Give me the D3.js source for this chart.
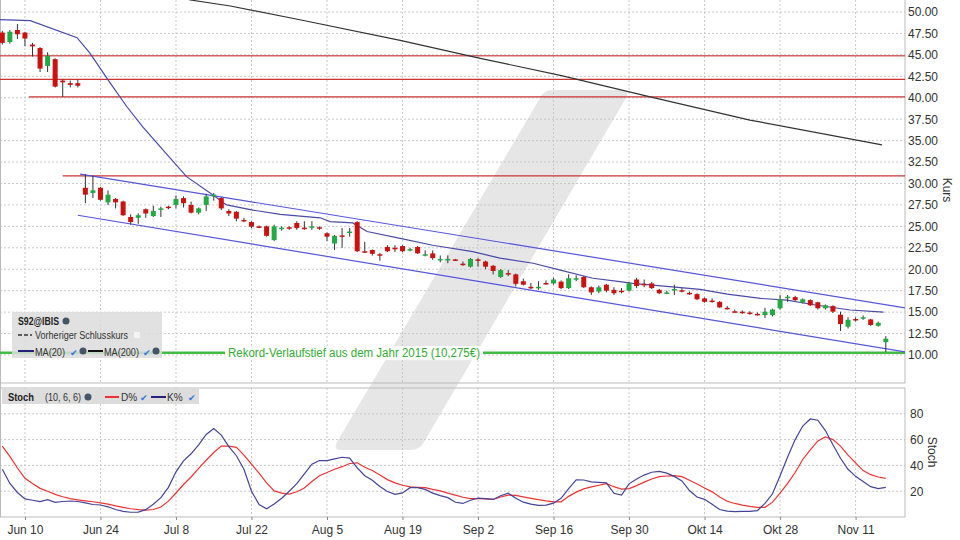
<!DOCTYPE html>
<html><head><meta charset="utf-8">
<script src="https://cdn.jsdelivr.net/npm/d3@7"></script>
<style>body{margin:0;background:#fff;font-family:Arial,"Liberation Sans",sans-serif}</style>
</head><body><svg id="c" width="960" height="540"></svg>
<script>
const opens=[47.6,46.5,47.9,47.6,46.2,45.8,43.7,44.5,42.0,41.7,41.7,29.5,28.9,29.5,27.8,28.2,27.9,26.1,26.0,27.0,26.2,27.0,27.3,27.5,28.3,27.5,26.6,27.5,28.5,28.3,26.8,26.7,25.75,25.5,25.0,25.0,23.4,24.75,24.9,25.4,24.85,24.95,24.9,24.2,23.0,23.95,24.35,25.5,22.1,22.25,21.75,22.6,22.5,22.7,22.3,22.6,21.7,21.85,21.15,21.15,21.15,20.65,20.3,21.15,20.9,20.4,19.1,19.55,19.4,18.6,17.95,17.9,18.4,18.35,18.55,17.8,18.9,19.1,17.9,17.4,18.2,17.6,17.5,17.5,18.8,18.3,18.35,17.6,17.25,17.65,17.55,17.25,17.1,16.6,16.35,16.2,15.5,15.1,15.05,14.95,14.8,14.65,14.65,15.45,16.75,16.75,16.1,16.4,16.15,15.45,15.7,14.7,13.3,14.2,14.35,14.15,13.4,11.5];
const closes=[46.4,47.7,47.4,46.9,46.0,43.4,44.9,41.3,41.8,41.5,41.4,28.7,29.2,28.1,28.7,27.8,26.3,25.5,26.3,26.5,26.8,27.1,27.2,28.2,27.7,26.6,27.1,28.5,28.7,27.1,26.5,25.9,25.7,24.96,24.9,23.9,25.0,24.85,24.8,24.8,24.8,25.0,24.85,23.8,23.9,23.9,24.4,22.1,22.0,21.8,21.7,22.1,22.45,22.1,22.35,21.85,21.75,21.3,21.2,21.2,21.1,20.6,21.2,21.1,20.3,19.8,19.9,19.5,18.3,18.2,17.9,17.95,18.35,18.8,17.8,18.95,18.95,17.9,17.3,17.9,17.5,17.2,17.45,18.35,18.05,18.25,17.8,17.2,17.3,17.7,17.5,17.2,16.5,16.2,16.3,15.55,15.45,15.05,15.0,14.9,14.75,15.05,15.3,16.5,16.8,16.4,16.5,15.8,15.45,15.8,15.05,13.6,14.1,14.15,14.4,13.5,13.75,11.9];
const highs=[47.8,47.9,48.6,47.7,46.4,45.9,45.3,44.6,42.1,42.0,42.1,31.1,30.9,29.6,29.2,28.3,28.0,26.4,26.5,27.1,27.4,27.3,27.4,28.6,28.5,27.9,27.2,28.8,28.9,28.4,27.0,26.8,26.0,25.6,25.1,25.1,25.2,25.0,25.0,25.6,25.6,25.6,25.0,24.3,24.0,24.8,24.8,25.6,23.2,22.3,21.9,22.8,22.8,22.8,22.5,22.7,22.2,22.2,21.6,21.6,21.2,20.9,21.3,21.3,21.0,20.5,20.0,19.9,19.5,18.9,18.4,18.6,18.7,19.0,18.7,19.4,19.3,19.2,18.0,18.1,18.3,17.9,17.8,18.5,19.0,18.8,18.5,17.7,17.5,18.2,17.8,17.4,17.2,16.7,16.6,16.3,15.7,15.3,15.2,15.1,14.95,15.5,15.4,17.0,17.0,16.9,16.6,16.5,16.2,15.9,15.8,15.05,14.4,14.4,14.6,14.2,13.9,12.2];
const lows=[46.2,46.3,46.85,46.0,44.8,43.0,43.0,41.2,40.1,41.2,41.2,27.7,28.3,28.0,27.5,27.1,26.2,25.2,25.3,26.0,26.1,26.1,27.0,27.1,27.2,26.5,26.4,26.8,28.0,26.9,26.2,25.6,25.5,24.8,24.8,23.8,23.3,24.5,24.6,24.6,24.6,24.6,24.6,23.3,22.25,22.5,23.8,22.0,21.9,21.6,21.0,22.0,22.0,22.0,22.1,21.8,21.5,21.1,20.8,20.7,21.0,20.4,20.2,20.3,20.0,19.4,19.0,19.2,18.0,18.1,17.7,17.6,18.2,18.2,17.7,17.7,18.6,17.8,17.0,17.2,17.3,17.0,17.2,17.4,17.8,17.9,17.7,17.1,17.1,17.0,17.3,17.0,16.4,16.1,16.1,15.5,15.3,14.9,14.8,14.7,14.6,14.3,14.5,15.3,16.2,16.3,16.0,15.7,15.3,15.3,14.9,12.8,13.1,13.9,14.1,13.4,13.3,10.35];
const ma20=[[-0.3,49.1],[3.7,49.0],[9.9,47.0],[11.6,45.2],[14.3,41.7],[16.5,38.95],[18.6,36.6],[21.3,33.9],[24.4,30.8],[27.9,28.65],[29.7,27.5],[33.2,26.9],[36.8,26.4],[42.1,26.0],[43.4,25.55],[46.4,25.4],[48.3,24.4],[52.7,23.6],[57,22.8],[62.3,22.05],[65.9,21.3],[70.3,20.7],[73.9,19.9],[78.2,18.95],[81.8,18.55],[83.5,18.35],[88,18.0],[92.4,17.65],[96,17.1],[100.4,16.6],[103.9,16.4],[107.9,15.8],[112.3,15.25],[116.7,15.0]];
const ma200=[[20,52.6],[24.9,51.4],[30.2,50.7],[39.4,49.1],[52.7,46.7],[63.3,44.6],[73.9,42.6],[85.8,40.1],[99,37.4],[116.5,34.5]];
const channelUpper=[[10.3,31.1],[119.6,15.5]];
const channelLower=[[10.0,26.3],[119.6,10.35]];
const redLevels=[{v:44.9,from:-0.3},{v:42.15,from:-0.3},{v:40.1,from:3.5},{v:30.9,from:8.0}];
const recordLow=10.275;
const stochK=[37,26,19,14,13,12,13.5,11.4,12,12.4,12,11,9.7,9.3,7.9,5.8,4.4,3.7,3.8,5.7,9.9,15,23,35,43.5,49,56,64,68.6,63.5,54.5,47.5,37,20,9.7,6.3,10,14.5,20,25.8,33.5,41,43.8,43.7,45,46.3,45.7,38,32,28.5,23.6,19.7,17.5,18.7,22.7,22.7,21.4,18.5,16.6,15,11.4,10.5,13,14.6,14.2,13.6,16.5,18.5,14.5,11.5,10,9,9.2,10.7,14.5,22,28.8,28.7,27.3,26.9,26.5,18.4,17,25.7,29.4,32.5,34.7,35.3,34,31.5,28,20.5,15.5,13.7,9.8,5.8,4.5,4.2,4.4,4.4,5,10.5,18,32,46.5,60,70.5,76,75,67,56,45.5,37,31.5,27.5,23.5,22,23];
const stochD=[55,47,38,30,26,22.2,20,17.5,15.7,14.3,13.3,12.5,11.8,11,10,8.6,7.4,6.4,5.7,5.3,5.8,7.7,12.3,18.6,25.2,31,37.7,44,50,55,55,54,48,41,34,26.5,20.2,18.5,17.7,19.6,22.5,27.5,32,34.5,37,39,41.5,42,38.5,36,32.5,29,26.5,24.6,23.3,23,22.8,21.4,20.2,18.5,17,15.3,14.2,14.2,14,13.6,15.5,17,16.7,15.6,14.5,13.4,12.5,11.8,11.8,16,19.3,21.8,23.3,24.6,25.8,23.5,21.6,22,24.3,27,29.5,31.3,31.8,32,31.3,28.5,25.6,22.5,19.5,15.5,12.2,10.5,9.2,8.2,7.5,7.5,11.5,18.5,26,34.5,44.6,52,59,62,60,55,48,42,36,32.8,31,30];
const xTickIdx=[3,13,23,33,43,53,63,73,83,93,103,113];
const xTickLabels=["Jun 10","Jun 24","Jul 8","Jul 22","Aug 5","Aug 19","Sep 2","Sep 16","Sep 30","Okt 14","Okt 28","Nov 11"];
const priceTicks=d3.range(10,50.01,2.5);
const stochTicks=[20,40,60,80];

const svg=d3.select("#c");
const W=905, mainBot=383, stTop=388, stBot=517;
const x=d3.scaleLinear().domain([0,117]).range([2.3,885.8]);
const y=d3.scaleLinear().domain([10,50]).range([355,12]);
const ys=d3.scaleLinear().domain([0,100]).range([517,388]);

svg.append("defs").html(`<clipPath id="cm"><rect x="0" y="0" width="${W}" height="${mainBot}"/></clipPath><clipPath id="cs"><rect x="0" y="${stTop}" width="${W}" height="${stBot-stTop}"/></clipPath>`);

svg.append("path").attr("d","M548,90 L622,90 Q630,90 626,98 L424,442 Q420,450 410,450 L341,450 Q333,450 337,442 L540,98 Q544,90 552,90 Z").attr("fill","#e6e6e6");

const g=svg.append("g");
priceTicks.forEach(t=>g.append("line").attr("x1",0).attr("x2",W).attr("y1",y(t)).attr("y2",y(t)).attr("stroke","#c8c8c8").attr("stroke-dasharray","2,2"));
stochTicks.forEach(t=>g.append("line").attr("x1",0).attr("x2",W).attr("y1",ys(t)).attr("y2",ys(t)).attr("stroke","#c8c8c8").attr("stroke-dasharray","2,2"));
xTickIdx.forEach(i=>{
  g.append("line").attr("x1",x(i)).attr("x2",x(i)).attr("y1",0).attr("y2",mainBot).attr("stroke","#c8c8c8").attr("stroke-dasharray","2,2");
  g.append("line").attr("x1",x(i)).attr("x2",x(i)).attr("y1",stTop).attr("y2",stBot).attr("stroke","#c8c8c8").attr("stroke-dasharray","2,2");
});
[[0,W,mainBot,mainBot],[0,W,stTop,stTop],[0,W,stBot,stBot]].forEach(a=>svg.append("line").attr("x1",a[0]).attr("x2",a[1]).attr("y1",a[2]).attr("y2",a[3]).attr("stroke","#bbb"));
svg.append("line").attr("x1",W).attr("x2",W).attr("y1",0).attr("y2",mainBot).attr("stroke","#bbb");
svg.append("line").attr("x1",W).attr("x2",W).attr("y1",stTop).attr("y2",stBot).attr("stroke","#bbb");
svg.append("line").attr("x1",0.5).attr("x2",0.5).attr("y1",0).attr("y2",stBot).attr("stroke","#bbb");

const m=svg.append("g").attr("clip-path","url(#cm)");
redLevels.forEach(r=>m.append("line").attr("x1",x(r.from)).attr("x2",W).attr("y1",y(r.v)).attr("y2",y(r.v)).attr("stroke","#cc3333").attr("stroke-width",r.v>44?1.6:1.2).attr("opacity",r.v>44?0.75:1));
m.append("line").attr("x1",0).attr("x2",W).attr("y1",y(recordLow)).attr("y2",y(recordLow)).attr("stroke","#44bb44").attr("stroke-width",2.5);
const ln=d3.line().x(d=>x(d[0])).y(d=>y(d[1]));
m.append("path").attr("d",ln(ma200)).attr("fill","none").attr("stroke","#333").attr("stroke-width",1.2);
m.append("path").attr("d",ln(channelUpper)).attr("fill","none").attr("stroke","#5555dd").attr("stroke-width",1.2);
m.append("path").attr("d",ln(channelLower)).attr("fill","none").attr("stroke","#5555dd").attr("stroke-width",1.2);
m.append("path").attr("d",ln(ma20)).attr("fill","none").attr("stroke","#4a4aaa").attr("stroke-width",1.2);

closes.forEach((c,i)=>{
  const o=opens[i], up=c>=o, col=up?"#22aa44":"#cc1111";
  const cx=x(i);
  m.append("line").attr("x1",cx).attr("x2",cx).attr("y1",y(highs[i])).attr("y2",y(lows[i])).attr("stroke","#333").attr("stroke-width",1);
  const t=y(Math.max(o,c)), b=y(Math.min(o,c));
  m.append("rect").attr("x",cx-2.5).attr("y",t).attr("width",5).attr("height",Math.max(1.5,b-t)).attr("fill",col);
});

const lbl="Rekord-Verlaufstief aus dem Jahr 2015 (10,275€)";
const tx=m.append("text").attr("x",354).attr("y",y(recordLow)+4.5).attr("text-anchor","middle").attr("font-size",12).attr("fill","#33aa33").attr("textLength",252).attr("lengthAdjust","spacingAndGlyphs").text(lbl);
const bb=tx.node().getBBox();
m.insert("rect","text").attr("x",bb.x-3).attr("y",bb.y).attr("width",bb.width+6).attr("height",bb.height).attr("fill","#fff");

const lg=svg.append("g");
const fit=(sel,len)=>sel.attr("textLength",len).attr("lengthAdjust","spacingAndGlyphs");
lg.append("rect").attr("x",12).attr("y",312).attr("width",150).attr("height",46).attr("fill","#dcdcdc").attr("opacity",0.85);
fit(lg.append("text").attr("x",18).attr("y",325).attr("font-size",10).attr("font-weight","bold").attr("fill","#222").text("S92@IBIS"),41);
lg.append("circle").attr("cx",66).attr("cy",321).attr("r",3.5).attr("fill","#456");
lg.append("line").attr("x1",18).attr("x2",32).attr("y1",335).attr("y2",335).attr("stroke","#333").attr("stroke-width",1.5).attr("stroke-dasharray","4,2");
fit(lg.append("text").attr("x",35).attr("y",339).attr("font-size",10).attr("fill","#333").text("Vorheriger Schlusskurs"),93);
lg.append("rect").attr("x",134).attr("y",332).attr("width",6).attr("height",6).attr("fill","#f4f4f4");
lg.append("line").attr("x1",18).attr("x2",34).attr("y1",351).attr("y2",351).attr("stroke","#22227a").attr("stroke-width",2);
fit(lg.append("text").attr("x",35).attr("y",356).attr("font-size",10).attr("fill","#333").text("MA(20)"),30);
lg.append("text").attr("x",70).attr("y",356).attr("font-size",9).attr("fill","#3377dd").text("✔");
lg.append("circle").attr("cx",83).attr("cy",351).attr("r",3.5).attr("fill","#456");
lg.append("line").attr("x1",88).attr("x2",103).attr("y1",351).attr("y2",351).attr("stroke","#111").attr("stroke-width",2);
fit(lg.append("text").attr("x",104).attr("y",356).attr("font-size",10).attr("fill","#333").text("MA(200)"),35);
lg.append("text").attr("x",143).attr("y",356).attr("font-size",9).attr("fill","#3377dd").text("✔");
lg.append("circle").attr("cx",156).attr("cy",351).attr("r",3.5).attr("fill","#456");

const s=svg.append("g").attr("clip-path","url(#cs)");
const sl=d3.line().x((d,i)=>x(i)).y(d=>ys(d));
s.append("path").attr("d",sl(stochD)).attr("fill","none").attr("stroke","#ee3333").attr("stroke-width",1.2);
s.append("path").attr("d",sl(stochK)).attr("fill","none").attr("stroke","#444499").attr("stroke-width",1.2);
const sg=svg.append("g");
sg.append("rect").attr("x",2).attr("y",389).attr("width",197).attr("height",15).attr("fill","#dcdcdc");
fit(sg.append("text").attr("x",8).attr("y",401).attr("font-size",10).attr("font-weight","bold").attr("fill","#222").text("Stoch"),26);
fit(sg.append("text").attr("x",45).attr("y",401).attr("font-size",10).attr("fill","#333").text("(10, 6, 6)"),36);
sg.append("circle").attr("cx",88).attr("cy",397).attr("r",3.5).attr("fill","#456");
sg.append("line").attr("x1",105).attr("x2",119).attr("y1",397).attr("y2",397).attr("stroke","#ee3333").attr("stroke-width",2);
sg.append("text").attr("x",121).attr("y",401).attr("font-size",10).attr("fill","#333").text("D%");
sg.append("text").attr("x",140).attr("y",401).attr("font-size",9).attr("fill","#3377dd").text("✔");
sg.append("line").attr("x1",151).attr("x2",166).attr("y1",397).attr("y2",397).attr("stroke","#22227a").attr("stroke-width",2);
sg.append("text").attr("x",167).attr("y",401).attr("font-size",10).attr("fill","#333").text("K%");
sg.append("text").attr("x",188).attr("y",401).attr("font-size",9).attr("fill","#3377dd").text("✔");

const ya=svg.append("g").attr("transform",`translate(${W},0)`).call(d3.axisRight(y).tickValues(priceTicks).tickFormat(d3.format(".2f")).tickSize(0).tickPadding(3));
const ysa=svg.append("g").attr("transform",`translate(${W},0)`).call(d3.axisRight(ys).tickValues(stochTicks).tickSize(0).tickPadding(5));
const xa=svg.append("g").attr("transform",`translate(0,${stBot})`).call(d3.axisBottom(x).tickValues(xTickIdx).tickFormat((d,i)=>xTickLabels[i]).tickSize(3));
[ya,ysa,xa].forEach(a=>{a.select(".domain").remove();a.selectAll("line").attr("stroke","#888");a.selectAll("text").attr("font-size",12).attr("fill","#333").attr("font-family","Arial,'Liberation Sans',sans-serif");});
xa.selectAll("text").attr("dy","0.95em");
svg.append("text").attr("transform","translate(943,190) rotate(90)").attr("text-anchor","middle").attr("font-size",12).attr("fill","#333").text("Kurs");
svg.append("text").attr("transform","translate(928,452) rotate(90)").attr("text-anchor","middle").attr("font-size",12).attr("fill","#333").text("Stoch");
</script></body></html>
